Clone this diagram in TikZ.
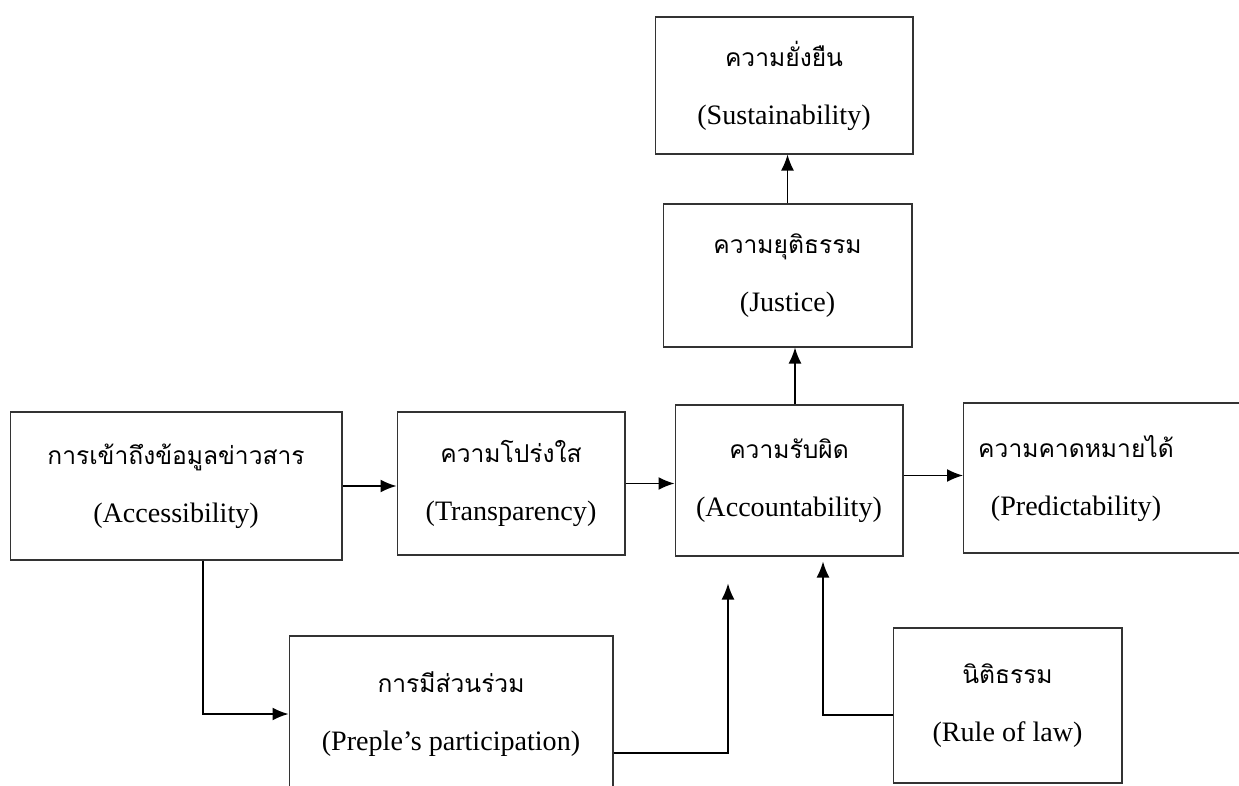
\documentclass[tikz,border=0pt]{standalone}
\usepackage{fontspec}
\setmainfont{Liberation Serif}
\newfontfamily\thaifont[Script=Thai]{Loma}
\newcommand\thaitxt[1]{{\thaifont\fontsize{14}{33}\selectfont #1}}
\usetikzlibrary{calc,positioning,arrows.meta}

\begin{document}
\begin{tikzpicture}[
    % one unit is one pixel of the page
    x=0.02cm, y=-0.02cm,
    % general settings
    align=center,
    % nodes
    base/.style={rectangle, draw=black!80, line width=0.6pt, inner sep=0pt,
                 font=\fontsize{16}{33}\selectfont},
    txt/.style={base, draw=none},
    % arrows
    link/.style={-{Latex[length=3.2mm,width=2.6mm]}, black, line width=0.9pt}
  ]

  \useasboundingbox (0,0) rectangle (1239,786);

  \node (access)  [base, minimum width=6.64cm, minimum height=2.96cm] at (176,486)
                  {\thaitxt{การเข้าถึงข้อมูลข่าวสาร}\\ (Accessibility)};

  \node (transp)  [base, minimum width=4.56cm, minimum height=2.86cm] at (511,483.5)
                  {\thaitxt{ความโปร่งใส}\\ (Transparency)};

  \node (account) [base, minimum width=4.56cm, minimum height=3.02cm] at (789,480.5)
                  {\thaitxt{ความรับผิด}\\ (Accountability)};

  \node (predict) [base, minimum width=6.0cm, minimum height=3.0cm, anchor=west] at (963,478)
                  {};
  \node (predtxt) [txt] at ([xshift=2.26cm]predict.west)
                  {\thaitxt{ความคาดหมายได้}\\ (Predictability)};

  \node (justice) [base, minimum width=4.98cm, minimum height=2.86cm] at (787.5,275.5)
                  {\thaitxt{ความยุติธรรม}\\ (Justice)};

  \node (sustain) [base, minimum width=5.16cm, minimum height=2.74cm] at (784,85.5)
                  {\thaitxt{ความยั่งยืน}\\ (Sustainability)};

  \node (part)    [base, minimum width=6.48cm, minimum height=3.12cm] at (451,714)
                  {\thaitxt{การมีส่วนร่วม}\\ (Preple’s participation)};

  \node (rule)    [base, minimum width=4.58cm, minimum height=3.1cm] at (1007.5,705.5)
                  {\thaitxt{นิติธรรม}\\ (Rule of law)};

  % free ends below the accountability box
  \coordinate (acctin1) at ($(account.south)+(-61,27)$);
  \coordinate (acctin2) at ($(account.south)+(34,5)$);

  \draw[link] (access.east)                 -- (access.east -| transp.west);
  \draw[link] (transp.east)                 -- (transp.east -| account.west);
  \draw[link] ([yshift=0.1cm]account.east)  -- ([yshift=0.1cm]account.east -| predict.west);
  \draw[link] ([xshift=0.12cm]account.north) -- ([xshift=0.12cm]account.north |- justice.south);
  \draw[link] (justice.north)               -- (justice.north |- sustain.south);

  \draw[link] ([xshift=0.54cm]access.south) |- (part.west);
  \draw[link] ([yshift=-0.78cm]part.east)   -| (acctin1);
  \draw[link] ([yshift=-0.19cm]rule.west)   -| (acctin2);
\end{tikzpicture}
\end{document}
